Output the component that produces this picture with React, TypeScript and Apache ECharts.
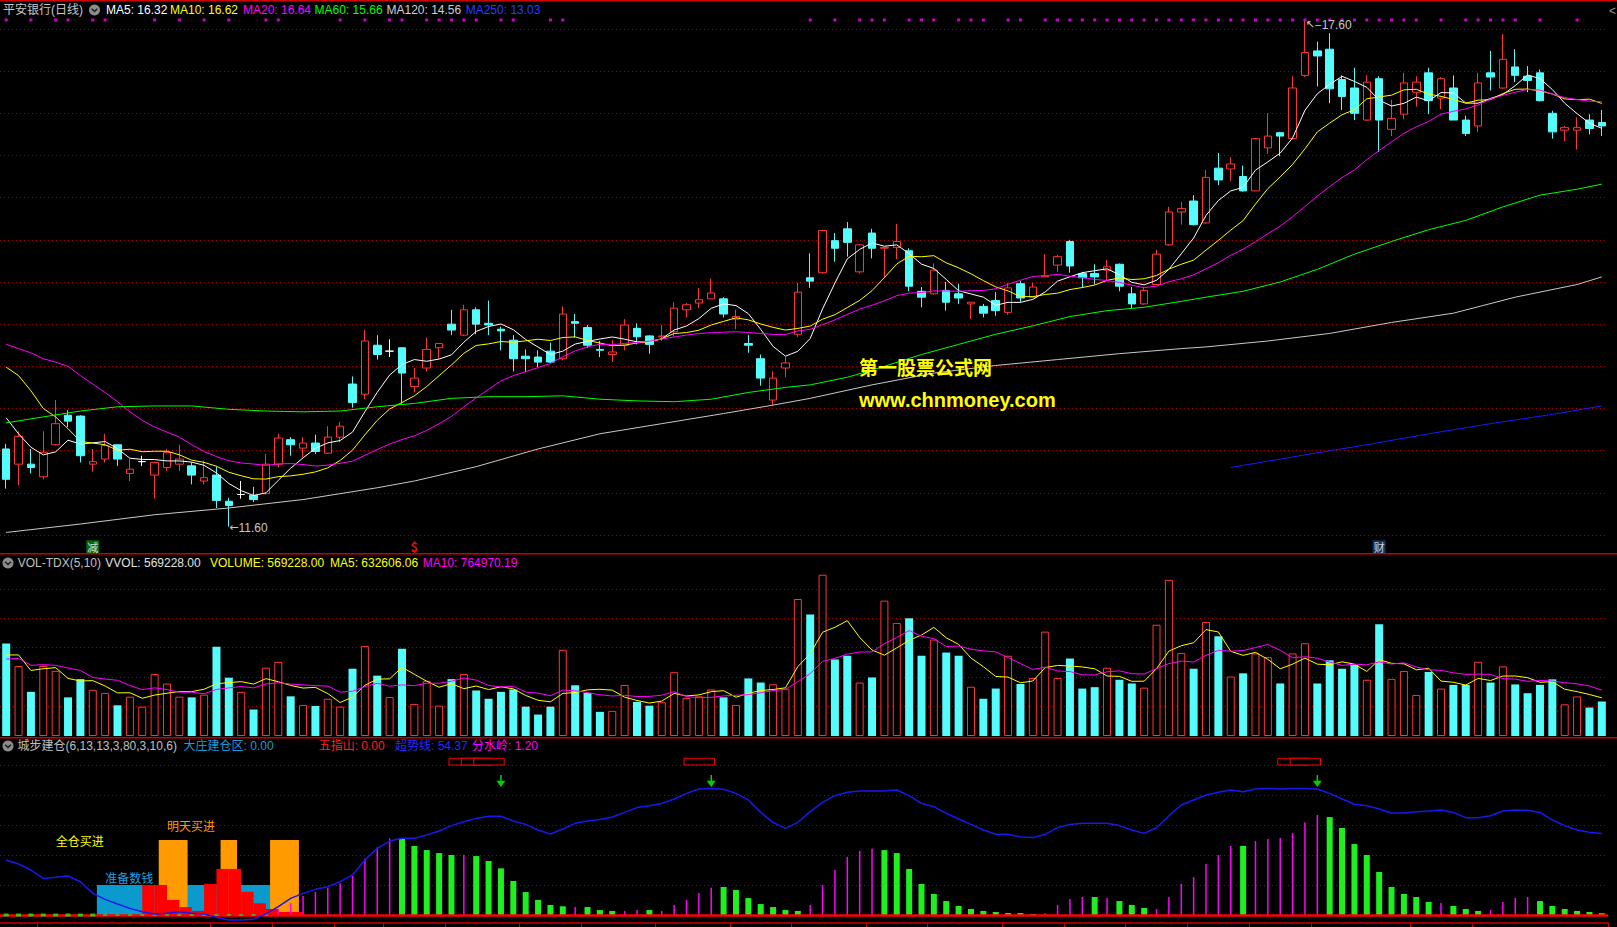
import React, { useEffect, useRef } from 'react';
import * as echarts from 'echarts';

// ---------------- DATA ----------------
const N = 130;
const CATEGORIES = Array.from({ length: N }, (_, i) => 'D' + (i + 1));

const OPEN = [12.52,12.34,12.34,12.19,12.57,12.92,12.91,12.34,12.40,12.57,
12.23,12.37,12.21,12.30,12.34,12.32,12.14,12.21,11.90,11.98,
11.97,11.99,12.34,12.63,12.53,12.59,12.47,12.66,13.29,13.17,
13.75,13.68,13.72,13.26,13.48,13.72,14.00,13.87,14.17,14.01,
13.94,13.81,13.62,13.61,13.68,13.59,14.03,13.96,13.70,13.64,
13.75,13.95,13.86,13.85,13.91,14.17,14.25,14.30,14.30,14.06,
13.77,13.59,13.10,13.48,13.88,14.55,14.61,14.99,15.13,14.62,
15.08,14.90,14.91,14.87,14.39,14.36,14.40,14.36,14.24,14.21,
14.28,14.14,14.48,14.32,14.56,14.70,14.98,14.60,14.60,14.64,
14.71,14.36,14.24,14.47,14.94,15.33,15.46,15.20,15.85,15.84,
15.75,15.58,16.09,16.27,16.20,16.95,17.24,17.26,16.90,16.80,
16.42,16.91,16.31,16.49,16.75,16.98,16.68,16.80,16.42,16.35,
16.98,16.80,17.05,16.94,16.98,16.50,16.30,16.30,16.42,16.39];

const CLOSE = [12.16,12.67,12.30,12.48,12.82,12.85,12.44,12.37,12.56,12.40,
12.28,12.37,12.36,12.48,12.40,12.21,12.18,11.91,11.85,11.98,
11.92,12.34,12.65,12.57,12.59,12.49,12.66,12.79,13.07,13.80,
13.64,13.68,13.42,13.36,13.70,13.77,13.93,14.17,14.00,13.99,
13.92,13.59,13.59,13.55,13.55,14.12,14.01,13.75,13.69,13.67,
13.99,13.85,13.76,13.86,14.19,14.23,14.29,14.37,14.12,14.09,
13.75,13.36,13.36,13.54,14.38,14.51,15.11,14.90,14.97,14.94,
14.90,14.91,14.98,14.45,14.32,14.64,14.26,14.31,14.26,14.13,
14.16,14.43,14.31,14.44,14.57,14.80,14.69,14.55,14.56,14.68,
14.45,14.24,14.40,14.83,15.33,15.37,15.18,15.74,15.71,15.90,
15.58,16.20,16.23,16.23,16.80,17.22,17.18,16.79,16.70,16.50,
16.87,16.42,16.44,16.86,16.87,16.65,16.91,16.42,16.26,16.86,
16.93,17.14,16.95,16.89,16.65,16.28,16.33,16.33,16.32,16.35];

const LOW = [12.05,12.09,12.23,12.16,12.56,12.78,12.36,12.25,12.36,12.32,
12.14,12.32,11.93,12.26,12.26,12.10,12.10,11.82,11.60,11.93,
11.89,11.98,12.30,12.44,12.42,12.46,12.46,12.60,13.01,13.11,
13.58,13.61,13.06,13.19,13.44,13.59,13.87,13.86,13.88,13.87,
13.69,13.44,13.43,13.49,13.54,13.57,13.84,13.72,13.61,13.55,
13.69,13.76,13.65,13.80,13.85,14.08,14.19,14.30,14.08,13.94,
13.66,13.27,13.04,13.37,13.85,14.43,14.60,14.74,14.80,14.60,
14.78,14.55,14.77,14.39,14.20,14.35,14.16,14.24,14.06,14.08,
14.10,14.11,14.26,14.31,14.56,14.62,14.61,14.43,14.47,14.51,
14.39,14.19,14.23,14.46,14.93,15.18,15.17,15.19,15.65,15.70,
15.57,15.58,16.02,15.99,16.19,16.93,16.82,16.62,16.54,16.42,
16.41,16.04,16.23,16.43,16.58,16.49,16.55,16.42,16.23,16.28,
16.77,16.79,16.87,16.75,16.64,16.20,16.17,16.07,16.25,16.23];

const HIGH = [12.58,12.73,12.52,12.73,13.10,12.98,12.92,12.52,12.70,12.57,
12.40,12.44,12.37,12.52,12.57,12.36,12.38,12.31,11.94,12.14,
12.07,12.46,12.70,12.66,12.66,12.69,12.79,12.84,13.38,13.93,
13.87,13.82,13.72,13.48,13.84,13.77,14.17,14.23,14.20,14.28,
13.97,13.87,13.70,13.69,13.78,14.21,14.12,13.99,13.80,13.81,
14.06,14.01,13.87,13.99,14.26,14.25,14.43,14.54,14.32,14.17,
13.87,13.64,13.44,13.61,14.49,14.84,15.12,15.08,15.21,14.95,
15.13,14.91,15.19,14.90,14.44,14.72,14.50,14.48,14.26,14.24,
14.38,14.49,14.51,14.49,14.83,14.82,15.00,14.62,14.71,14.76,
14.72,14.44,14.44,14.88,15.39,15.45,15.53,15.83,16.03,15.98,
15.88,16.21,16.50,16.28,16.94,17.60,17.35,17.45,16.95,17.04,
16.95,16.94,16.66,16.98,16.94,17.04,16.93,16.95,16.47,16.98,
17.24,17.44,17.26,17.06,17.02,16.53,16.35,16.45,16.49,16.54];

const VOLUME = [1523000,1154000,728000,1154000,1074000,637000,938000,762000,711000,506000,
648000,484000,1023000,864000,648000,637000,682000,1472000,961000,728000,
438000,1126000,1222000,654000,512000,495000,614000,484000,1109000,1483000,
995000,642000,1438000,529000,910000,500000,938000,1023000,750000,614000,
728000,767000,484000,353000,484000,1421000,836000,711000,398000,415000,
841000,563000,500000,557000,1052000,625000,654000,767000,637000,512000,
949000,881000,853000,779000,2258000,2004000,2658000,1262000,1323000,881000,
965000,2231000,1864000,1941000,1323000,1590000,1376000,1323000,812000,614000,
782000,1323000,858000,957000,1720000,957000,1277000,782000,805000,1125000,
927000,866000,797000,1834000,2574000,1369000,1109000,1880000,1643000,980000,
1033000,1361000,1300000,866000,1361000,1529000,866000,1247000,1109000,1170000,
927000,1842000,942000,1071000,675000,1056000,782000,843000,843000,1224000,
881000,1148000,850000,705000,843000,934000,522000,652000,469000,569228];

// moving-average values visible at the left edge (earlier history is off-screen)
const MA5_HEAD = [12.89, 12.70, 12.54, 12.45];
const MA10_HEAD = [13.49, 13.39, 13.21, 13.00, 12.90, 12.76, 12.61, 12.59, 12.57];
const MA20_HEAD = [13.76, 13.71, 13.66, 13.59, 13.55, 13.50, 13.39, 13.29, 13.19, 13.08,
  12.96, 12.86, 12.78, 12.72, 12.66, 12.57, 12.49, 12.43, 12.38];
const MA60_PTS: [number, number][] = [[0,12.83],[3,12.90],[6,12.97],[9,13.02],[12,13.03],[15,13.03],[18,12.99],[21,12.97],[24,12.96],[27,12.97],[30,13.02],[33,13.06],[36,13.12],[39,13.14],[42,13.14],[45,13.15],[48,13.11],[51,13.09],[54,13.08],[57,13.11],[60,13.19],[63,13.25],[65,13.28],[68,13.37],[71,13.50],[74,13.64],[77,13.76],[80,13.88],[83,13.98],[86,14.09],[89,14.16],[92,14.20],[95,14.27],[97,14.32],[100,14.39],[103,14.50],[106,14.65],[109,14.83],[112,14.98],[115,15.12],[118,15.23],[121,15.39],[124,15.53],[127,15.60],[129,15.66]];
const MA120_PTS: [number, number][] = [[0,11.53],[6,11.63],[12,11.74],[18,11.82],[24,11.92],[30,12.06],[33,12.14],[38,12.31],[43,12.52],[48,12.70],[53,12.82],[58,12.94],[62,13.04],[65,13.12],[70,13.28],[75,13.42],[80,13.51],[85,13.58],[90,13.65],[95,13.71],[97,13.73],[102,13.80],[107,13.89],[112,14.02],[117,14.13],[122,14.32],[127,14.47],[129,14.56]];
const MA250_PTS: [number, number][] = [[99,12.30],[105,12.45],[110,12.57],[115,12.70],[120,12.82],[125,12.93],[129,13.03]];
const VMA5_HEAD = [1336000, 1336000, 1080000, 1109000];
const VMA10_HEAD = [1268000, 1279000, 1165000, 1176000, 1165000, 1120000, 1080000, 966000, 938000];

const GRID_PRICES = [11.5, 12, 12.5, 13, 13.5, 14, 14.5, 15, 15.5, 16, 16.5, 17, 17.5];
const GRID_VOLS = [485000, 970000, 1455000, 1940000, 2425000];
const GRID_IND = [20, 40, 60, 80, 100];

const DOT_IDX = [0,2,4,5,7,8,12,14,16,18,21,22,27,29,31,32,34,35,36,37,38,40,41,44,45,
  65,67,69,70,71,73,74,75,77,78,79,81,82,84,85,86,87,88,89,90,91,92,93,94,95,96,97,98,99,100,
  101,102,103,104,105,106,107,108,109,110,111,112,113,114,116,118,119,120,121,122,124,127];
const DOT_ROW = 17.607;
const SIGNAL_IDX = [7, 33, 111];
const SIGNAL_TEXT = ['减', '$', '财'];
const SIGNAL_ROW = 11.36;

const LEGEND_TOP = ['MA5: 16.32', 'MA10: 16.62', 'MA20: 16.64', 'MA60: 15.66', 'MA120: 14.56', 'MA250: 13.03'];
const LEGEND_VOL = ['VOL-TDX(5,10)', 'VVOL: 569228.00', 'VOLUME: 569228.00', 'MA5: 632606.06', 'MA10: 764970.19'];
const LEGEND_IND = ['城步建仓(6,13,13,3,80,3,10,6)', '大庄建仓区: 0.00', '五指山: 0.00', '超势线: 54.37', '分水岭: 1.20'];

// indicator pane
const BLUE = [36.7,34,30,24.4,25.1,26,22.2,14.4,10.4,7.3,
4.4,2.2,0.7,1.1,2.2,1.1,0.7,-1.6,-3.3,-3.3,
-2.9,0.7,5.6,11.1,14.4,17.1,18.9,22.2,26.7,36.7,
44.4,49.3,51.1,51.1,53.3,56,59.6,62.2,64.4,65.8,
65.8,62.7,60.4,56.7,54,57.3,61.1,62.7,63.6,65.3,
68.4,71.6,72.9,74.4,77.3,81.1,84,84.4,83.8,81.1,
76.7,68.4,61.8,57.8,61.8,68.9,75.1,79.6,81.8,82.7,
82.7,82.7,83.3,79.6,74.4,72.2,67.8,64,60.4,56.7,
53.8,53.8,52,51.6,53.8,58.2,60.4,61.1,61.1,61.1,
59.6,56.7,54.4,58.2,66.2,73.3,76.7,80,81.8,83.3,
82.2,84,84.4,84,84.4,84.4,84,81.1,77.3,73.8,
72.9,70.7,68,68,68.9,69.3,70,68.4,64.9,64.9,
66.2,69.3,70,69.8,68.4,63.3,59.6,56.7,55.1,54.37];

const WATER: (number | null)[] = [
null,null,null,null,null,null,null,null,null,null,
null,null,null,null,null,null,null,null,null,null,
null,null,
3.8,7.8,12.7,15.3,18,21.1,26,37.6,45.1,51.1,
50.7,46,43.3,41.3,40,40,39.3,36,31.1,22.7,
15.3,10,6.7,5.8,5.3,5.3,3.3,2.7,2.7,3.3,
3.3,2.7,6.7,10,14.7,18.2,18.7,16.7,11.3,7.3,
5.3,3.3,2.7,6.7,20,30,38.7,42.7,44.4,43.3,
41.3,30.7,20.7,14,9.3,6,4,2.7,2,1.3,
1.3,0.7,1.1,6.7,10.7,12,12,11.3,9.3,6.7,
4.7,4,12,20.7,25.3,34,40,46,46,49.3,
50.7,51.3,54.7,61.8,66.7,65.3,58,47.3,40,28.7,
18.7,14,12,8.7,8,6,4,2.7,3.3,8.7,
11.3,12,9.3,6,4,2.7,2,1.2];
const WATER_KIND = '----------------------' +
  'MMMMMMMMMM' + 'GGGGGMGGGG' + 'GGGGMGGGMM' + 'GMMMMMGGGG' + 'GGGMMMMMMG' +
  'GGGGGGGGGG' + 'GGMMMMGMGG' + 'GMMMMMMMGM' + 'MMMMMGGGGG' + 'GGGGMGGGMM' + 'MMGGGGGG';

const CYAN_IDX = [8,9,10,11,12,13,14,15,16,17,18,19,20,21];
const CYAN_VAL = 20;
const ORANGE_IDX = [13, 14, 18, 22, 23];
const ORANGE_VAL = 50;
const RED_STEP_IDX = [11,12,13,14,15,16,17,18,19,20,21,22,23];
const RED_STEP_VAL = [20,20,10,5.3,2.7,20.7,30.7,30.7,15.5,7.8,4,2,2];
const REDBOX_IDX = [36, 37, 38, 55, 103, 104];
const REDBOX_RANGE = [100, 104.5];
const ARROW_IDX = [40, 57, 106];
const ARROW_LEVELS = [93.3, 89.5, 85.3];
const GREEN_BRIGHT_IDX = [0,1,2,3,4,5,6,7];
const GREEN_DIM_IDX = [8,9,10,11,12,13,14,15,16,17,18,19,20,21];
const LABEL_TEXT = ['全仓买进', '准备数钱', '明天买进'];
const LABEL_IDX = [4, 8, 13];
const LABEL_VAL = [50, 25.3, 60];
const TICK_IDX = [3,17,22,27,31,36,42,47,53,59,64,70,75,81,86,91,96,101,106,114,119];

// axis ranges (pane geometry)
const PRICE_MIN = 11.2745;
const PRICE_MAX = 17.808;
const VOL_MAX = 3000000;
const IND_MIN = -5.3333;
const IND_MAX = 118;

// ---------------- STYLE ----------------
const RED = '#ff3434';
const CYAN = '#54fcfc';
const GRID_RED = '#a00000';
const SEP_RED = '#cc0000';
const FONT = '12px "Liberation Sans", "Noto Sans CJK SC", sans-serif';
const CJK = '"Noto Sans CJK SC", sans-serif';
const LABEL_COLORS = ['#ffff00', '#1e9ee0', '#ff9a00'];
const TOP_COLORS = ['#ffffff', '#ffff00', '#ff00ff', '#00ff00', '#d0d0d0', '#2a3cff'];
const TOP_X = [106, 170, 243, 314.6, 386.5, 465.7];
const VOL_COLORS = ['#c0c0c0', '#e0e0e0', '#ffff00', '#ffff00', '#ff00ff'];
const VOL_X = [17.7, 105.3, 210, 330, 422.7];
const IND_COLORS = ['#c0c0c0', '#1a9ad6', '#ff2020', '#2a2aff', '#ff00ff'];
const IND_X = [17.5, 183.6, 318.7, 395, 472];
const SIGNAL_BG = ['#0b800b', 'rgba(0,0,0,0)', '#1c3c74'];
const SIGNAL_FG = ['#ffffff', '#ff2020', '#ffffff'];

function movingAvg(src: number[], n: number, head: number[]) {
  return src.map((_, i) => {
    if (i < n - 1) return head[i];
    let s = 0;
    for (let k = i - n + 1; k <= i; k++) s += src[k];
    return +(s / n).toFixed(4);
  });
}
function sparse(points: [number, number][]) {
  const arr: (number | null)[] = new Array(N).fill(null);
  points.forEach(([i, v]) => { arr[i] = v; });
  return arr;
}

function gridLines(values: number[], z = 1) {
  return {
    silent: true, symbol: 'none', z,
    label: { show: false },
    lineStyle: { color: GRID_RED, type: [1, 3], width: 1 },
    data: values.map((v) => ({ yAxis: v })),
  };
}

function txt(text: string, x: number, y: number, fill: string, font = FONT) {
  return {
    type: 'text', silent: true, z: 100,
    style: { text, x, y, fill, font, verticalAlign: 'middle', textVerticalAlign: 'middle', align: 'left', textAlign: 'left' },
  };
}
function icon(cx: number, cy: number) {
  return {
    type: 'group', silent: true, z: 100,
    children: [
      { type: 'circle', shape: { cx, cy, r: 5.5 }, style: { fill: '#8c8c8c' } },
      { type: 'polyline', shape: { points: [[cx - 2.8, cy - 1.3], [cx, cy + 1.5], [cx + 2.8, cy - 1.3]] }, style: { stroke: '#1a1a1a', lineWidth: 1.5, fill: null } },
    ],
  };
}

function buildOption() {
  const ma5 = movingAvg(CLOSE, 5, MA5_HEAD);
  const ma10 = movingAvg(CLOSE, 10, MA10_HEAD);
  const ma20 = movingAvg(CLOSE, 20, MA20_HEAD);
  const vma5 = movingAvg(VOLUME, 5, VMA5_HEAD);
  const vma10 = movingAvg(VOLUME, 10, VMA10_HEAD);

  const candleData = OPEN.map((o, i) => {
    const v = [o, CLOSE[i], LOW[i], HIGH[i]];
    if (o === CLOSE[i]) {
      return { value: v, itemStyle: { color: '#ffffff', color0: '#ffffff', borderColor: '#ffffff', borderColor0: '#ffffff', borderColorDoji: '#ffffff' } };
    }
    return v;
  });
  const volData = VOLUME.map((v, i) => ({
    value: v,
    itemStyle: CLOSE[i] >= OPEN[i]
      ? { color: '#000000', borderColor: RED, borderWidth: 1 }
      : { color: CYAN, borderWidth: 0 },
  }));

  let hiIdx = 0, loIdx = 0;
  HIGH.forEach((h, i) => { if (h > HIGH[hiIdx]) hiIdx = i; });
  LOW.forEach((l, i) => { if (l < LOW[loIdx]) loIdx = i; });

  const maLine = (data: any[], color: string) => ({
    type: 'line', xAxisIndex: 0, yAxisIndex: 0, data, symbol: 'none', connectNulls: true,
    lineStyle: { color, width: 1 }, silent: true, z: 3,
  });

  const ind = { xAxisIndex: 2, yAxisIndex: 2 };

  const centered = (ratio: number, fill: string) => (params: any, api: any) => {
    const i = api.value(0), v = api.value(1);
    const p = api.coord([i, v]);
    const b = api.coord([i, 0]);
    const w = api.size([1, 0])[0] * ratio;
    return { type: 'rect', shape: { x: p[0] - w / 2, y: p[1], width: w, height: b[1] - p[1] }, style: { fill } };
  };

  const series: any[] = [
    // ---- price pane
    {
      type: 'line', xAxisIndex: 0, yAxisIndex: 0, data: CLOSE, symbol: 'none', silent: true,
      lineStyle: { opacity: 0 }, z: 1, markLine: gridLines(GRID_PRICES),
    },
    {
      type: 'candlestick', xAxisIndex: 0, yAxisIndex: 0, data: candleData, barWidth: 8, silent: true, z: 2,
      itemStyle: { color: '#000000', color0: CYAN, borderColor: RED, borderColor0: CYAN, borderWidth: 1, borderColorDoji: '#ffffff' },
      markPoint: {
        symbol: 'rect', symbolSize: 1, itemStyle: { color: 'rgba(0,0,0,0)' }, silent: true,
        label: {
          show: true, position: 'right', distance: 0, color: '#c8c8c8',
          rich: {
            a: { fontFamily: '"DejaVu Sans", sans-serif', fontSize: 11, color: '#c8c8c8' },
            b: { fontFamily: '"Liberation Sans", sans-serif', fontSize: 12, color: '#c8c8c8' },
          },
        },
        data: [
          { coord: [CATEGORIES[hiIdx], HIGH[hiIdx]], label: { formatter: '{a|↖‒}{b|' + HIGH[hiIdx].toFixed(2) + '}', offset: [0, 4] } },
          { coord: [CATEGORIES[loIdx], LOW[loIdx]], label: { formatter: '{a|←}{b|' + LOW[loIdx].toFixed(2) + '}', offset: [0, 1] } },
        ],
      },
    },
    maLine(ma5, '#ffffff'),
    maLine(ma10, '#ffff00'),
    maLine(ma20, '#ff00ff'),
    maLine(sparse(MA60_PTS), '#00ff00'),
    maLine(sparse(MA120_PTS), '#c8c8c8'),
    maLine(sparse(MA250_PTS), '#1a1aff'),
    {
      type: 'scatter', xAxisIndex: 0, yAxisIndex: 0, silent: true, z: 3,
      data: DOT_IDX.map((i) => [i, DOT_ROW]), symbol: 'rect', symbolSize: 3,
      itemStyle: { color: '#ff00ff' },
    },
    {
      type: 'scatter', xAxisIndex: 0, yAxisIndex: 0, silent: true, z: 3,
      data: SIGNAL_IDX.map((i, k) => ({
        value: [i, SIGNAL_ROW], symbol: 'rect', symbolSize: [13, 13],
        itemStyle: { color: SIGNAL_BG[k] },
        label: { show: true, position: 'inside', formatter: SIGNAL_TEXT[k], color: SIGNAL_FG[k], fontSize: k === 1 ? 13 : 11, fontWeight: k === 1 ? 'bold' : 'normal', fontFamily: CJK },
      })),
    },
    // ---- volume pane
    {
      type: 'line', xAxisIndex: 1, yAxisIndex: 1, data: VOLUME, symbol: 'none', silent: true,
      lineStyle: { opacity: 0 }, z: 1, markLine: gridLines(GRID_VOLS),
    },
    { type: 'bar', xAxisIndex: 1, yAxisIndex: 1, data: volData, barWidth: 8, silent: true, z: 2 },
    { type: 'line', xAxisIndex: 1, yAxisIndex: 1, data: vma5, symbol: 'none', silent: true, z: 3, lineStyle: { color: '#ffff00', width: 1 } },
    { type: 'line', xAxisIndex: 1, yAxisIndex: 1, data: vma10, symbol: 'none', silent: true, z: 3, lineStyle: { color: '#ff00ff', width: 1 } },
    // ---- indicator pane
    {
      type: 'line', ...ind, data: BLUE, symbol: 'none', silent: true,
      lineStyle: { opacity: 0 }, z: 1, markLine: gridLines(GRID_IND),
    },
    {
      type: 'custom', ...ind, silent: true, z: 2, encode: { x: 0, y: 1 },
      data: CYAN_IDX.map((i) => [i, CYAN_VAL]), renderItem: centered(1.334, '#0a9acd'),
    },
    {
      type: 'custom', ...ind, silent: true, z: 2, encode: { x: 0, y: 1 },
      data: ORANGE_IDX.map((i) => [i, ORANGE_VAL]), renderItem: centered(1.334, '#ff9a00'),
    },
    {
      type: 'custom', ...ind, silent: true, z: 2, encode: { x: 0, y: 1 },
      data: RED_STEP_IDX.map((i, k) => [i, RED_STEP_VAL[k]]),
      renderItem: (params: any, api: any) => {
        const i = api.value(0), v = api.value(1);
        const p = api.coord([i, v]);
        const b = api.coord([i, 0]);
        const bw = api.size([1, 0])[0];
        return { type: 'rect', shape: { x: p[0], y: p[1], width: bw, height: b[1] - p[1] }, style: { fill: '#ff0000' } };
      },
    },
    {
      type: 'custom', ...ind, silent: true, z: 2, encode: { x: 0, y: 1 },
      data: WATER.map((v, i) => (v == null ? null : [i, v, WATER_KIND[i] === 'G' ? 1 : 0])).filter(Boolean),
      renderItem: (params: any, api: any) => {
        const i = api.value(0), v = api.value(1), g = api.value(2);
        const p = api.coord([i, v]);
        const b = api.coord([i, 0]);
        const w = g ? 6 : 1.5;
        return { type: 'rect', shape: { x: p[0] - w / 2, y: p[1], width: w, height: b[1] - p[1] }, style: { fill: g ? '#1fee1f' : '#ff00ff' } };
      },
    },
    {
      type: 'line', ...ind, data: BLUE, symbol: 'none', silent: true, z: 6,
      lineStyle: { color: '#1818f0', width: 1.5 },
      markLine: {
        silent: true, symbol: 'none', z: 5, label: { show: false },
        lineStyle: { color: '#ff0000', type: 'solid', width: 2.5 },
        data: [{ yAxis: 0 }],
      },
    },
    {
      type: 'scatter', ...ind, silent: true, z: 5.5,
      data: GREEN_BRIGHT_IDX.map((i) => [i, 0]), symbol: 'rect', symbolSize: [5, 3],
      itemStyle: { color: '#00ff00' },
    },
    {
      type: 'scatter', ...ind, silent: true, z: 5.5,
      data: GREEN_DIM_IDX.map((i) => [i, 0]), symbol: 'rect', symbolSize: [4, 2],
      itemStyle: { color: '#3cb83c' },
    },
    {
      type: 'custom', ...ind, silent: true, z: 7, encode: { x: 0, y: 1 },
      data: REDBOX_IDX.map((i) => [i, REDBOX_RANGE[1]]),
      renderItem: (params: any, api: any) => {
        const i = api.value(0);
        const t = api.coord([i, REDBOX_RANGE[1]]);
        const b = api.coord([i, REDBOX_RANGE[0]]);
        const bw = api.size([1, 0])[0];
        return { type: 'rect', shape: { x: t[0] - 0.2 * bw, y: t[1], width: 2.46 * bw, height: b[1] - t[1] }, style: { fill: '#000000', stroke: '#ff0000', lineWidth: 1 } };
      },
    },
    {
      type: 'custom', ...ind, silent: true, z: 7, encode: { x: 0, y: 1 },
      data: ARROW_IDX.map((i) => [i, ARROW_LEVELS[0]]),
      renderItem: (params: any, api: any) => {
        const i = api.value(0);
        const a = api.coord([i, ARROW_LEVELS[0]]);
        const h = api.coord([i, ARROW_LEVELS[1]]);
        const t = api.coord([i, ARROW_LEVELS[2]]);
        return {
          type: 'group',
          children: [
            { type: 'line', shape: { x1: a[0], y1: a[1], x2: h[0], y2: h[1] + 1 }, style: { stroke: '#00d000', lineWidth: 1.5 } },
            { type: 'polygon', shape: { points: [[h[0] - 4.5, h[1]], [h[0] + 4.5, h[1]], [t[0], t[1]]] }, style: { fill: '#00d000' } },
          ],
        };
      },
    },
    {
      type: 'custom', ...ind, silent: true, z: 8, encode: { x: 0, y: 1 },
      data: LABEL_IDX.map((i, k) => [i, LABEL_VAL[k]]),
      renderItem: (params: any, api: any) => {
        const k = params.dataIndex;
        const p = api.coord([api.value(0), api.value(1)]);
        return {
          type: 'text',
          style: { text: LABEL_TEXT[k], x: p[0], y: p[1], fill: LABEL_COLORS[k], font: '12px ' + CJK, verticalAlign: 'middle', textVerticalAlign: 'middle', align: 'left', textAlign: 'left' },
        };
      },
    },
  ];

  const graphic: any[] = [
    { type: 'rect', silent: true, z: 90, shape: { x: 0, y: 0, width: 1617, height: 1.5 }, style: { fill: SEP_RED } },
    { type: 'rect', silent: true, z: 90, shape: { x: 0, y: 553, width: 1617, height: 1.6 }, style: { fill: SEP_RED } },
    { type: 'rect', silent: true, z: 90, shape: { x: 0, y: 737, width: 1617, height: 1.6 }, style: { fill: SEP_RED } },
    txt('平安银行(日线)', 3, 10, '#c8c8c8'),
    icon(94.5, 10),
    ...LEGEND_TOP.map((t, k) => txt(t, TOP_X[k], 10, TOP_COLORS[k])),
    txt('<', 1609, 11, '#9a9a9a'),
    icon(8, 563),
    ...LEGEND_VOL.map((t, k) => txt(t, VOL_X[k], 563, VOL_COLORS[k])),
    icon(8, 746),
    ...LEGEND_IND.map((t, k) => txt(t, IND_X[k], 746, IND_COLORS[k])),
    txt('第一股票公式网', 859, 366, '#ffff00', 'bold 19px "Noto Sans CJK SC", sans-serif'),
    txt('www.chnmoney.com', 859, 400, '#ffff00', 'bold 20px "Liberation Sans", Arial, sans-serif'),
  ];

  return {
    animation: false,
    backgroundColor: '#000000',
    grid: [
      { left: 0, width: 1608, top: 3, height: 551 },
      { left: 0, width: 1608, top: 554, height: 182 },
      { left: 0, width: 1608, top: 738, height: 185 },
    ],
    xAxis: [0, 1, 2].map((k) => ({
      type: 'category', gridIndex: k, data: CATEGORIES, boundaryGap: true,
      axisLine: { show: k === 2, onZero: false, lineStyle: { color: SEP_RED, width: 1.5 } },
      axisTick: { show: k === 2, interval: (idx: number) => TICK_IDX.includes(idx), length: 4, lineStyle: { color: SEP_RED } },
      axisLabel: { show: false },
      splitLine: { show: false },
    })),
    yAxis: [
      { gridIndex: 0, type: 'value', min: PRICE_MIN, max: PRICE_MAX, show: false, splitLine: { show: false } },
      { gridIndex: 1, type: 'value', min: 0, max: VOL_MAX, show: false, splitLine: { show: false } },
      { gridIndex: 2, type: 'value', min: IND_MIN, max: IND_MAX, show: false, splitLine: { show: false } },
    ],
    series,
    graphic,
  };
}

export default function App() {
  const ref = useRef<HTMLDivElement>(null);
  useEffect(() => {
    document.body.style.margin = '0';
    document.body.style.background = '#000';
    const chart = echarts.init(ref.current as HTMLDivElement, null, { renderer: 'svg' });
    chart.setOption(buildOption() as any);
    return () => chart.dispose();
  }, []);
  return (
    <div
      ref={ref}
      style={{ position: 'absolute', left: 0, top: 0, width: 1617, height: 927, background: '#000' }}
    />
  );
}
